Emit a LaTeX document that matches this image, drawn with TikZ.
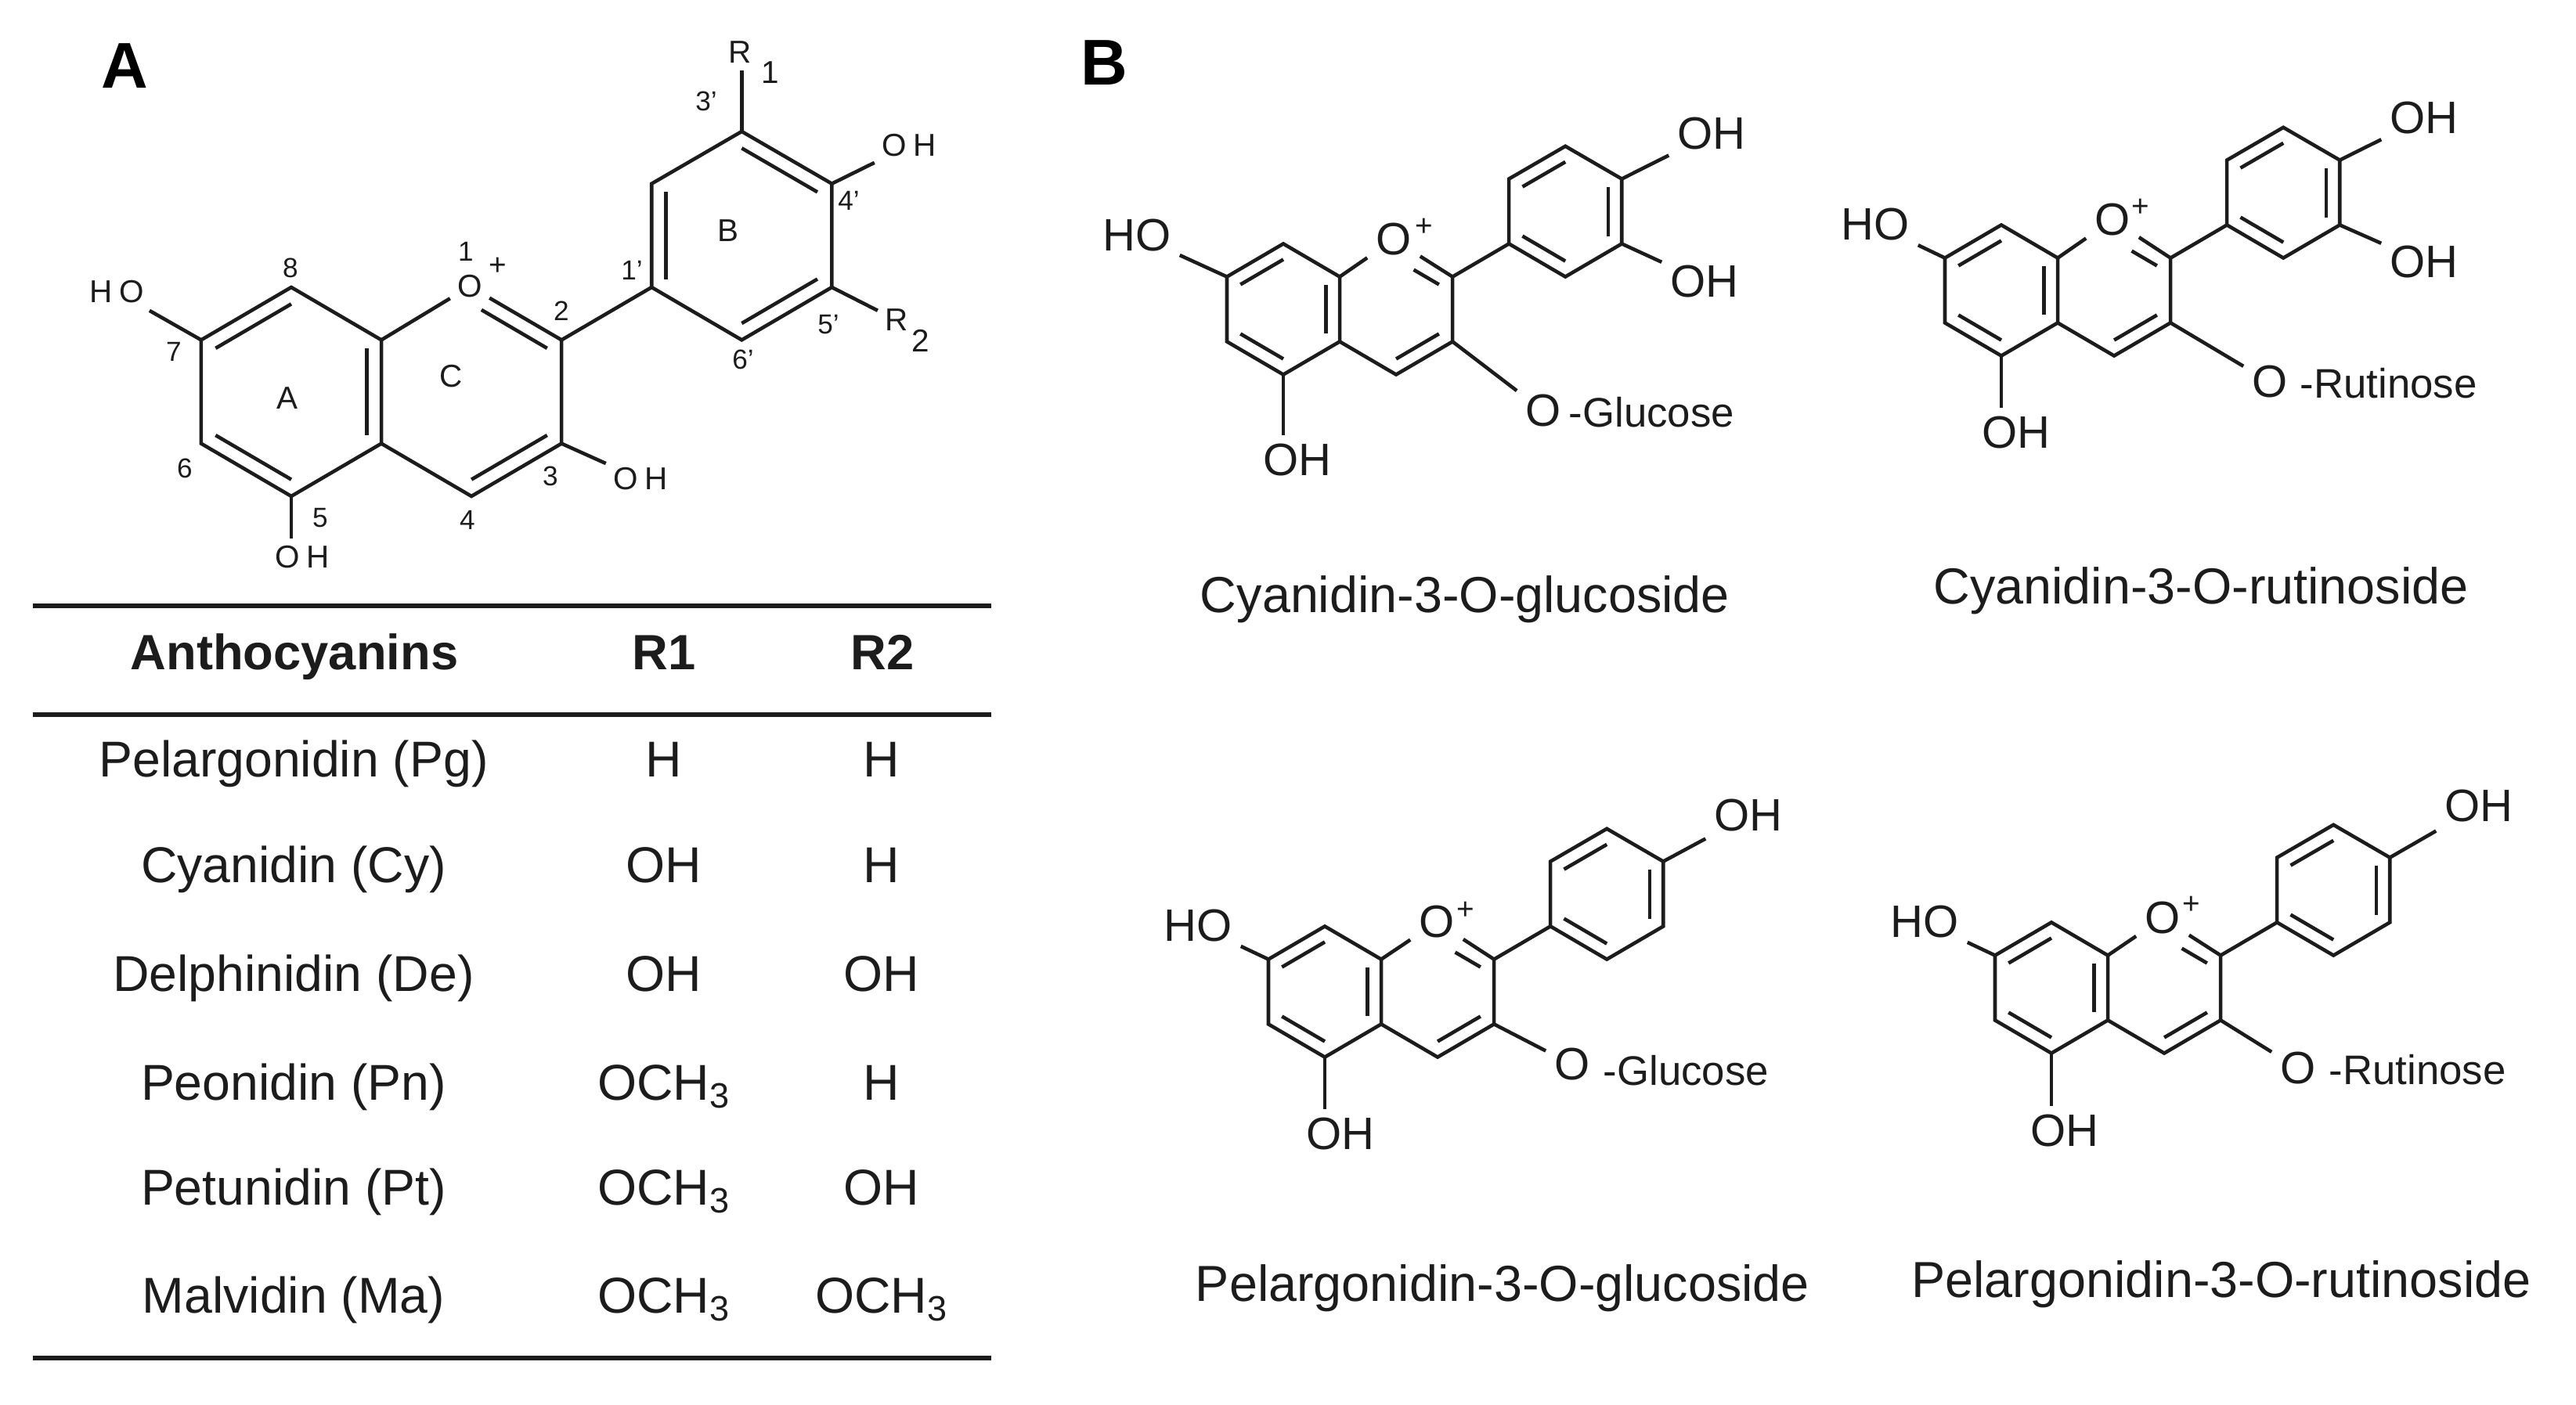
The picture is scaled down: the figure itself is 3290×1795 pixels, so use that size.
\documentclass[tikz,border=0pt]{standalone}
\usepackage{fontspec}
\setmainfont{Liberation Sans}
\usetikzlibrary{calc}
\definecolor{ink}{HTML}{1C1C1C}
\tikzset{
    bond/.style={draw=ink, line width=1.3pt, line join=miter},
    rule/.style={draw=ink, line width=1.7pt},
    atoma/.style={text=ink, inner sep=2.5pt, font=\fontsize{11.5}{13}\selectfont},
    numa/.style={text=ink, inner sep=0pt, font=\fontsize{10}{12}\selectfont},
    atomb/.style={text=ink, inner sep=3pt, font=\fontsize{16.5}{18}\selectfont},
    sugar/.style={text=ink, inner sep=0pt, anchor=west, font=\fontsize{15}{17}\selectfont},
    plus/.style={text=ink, inner sep=0pt, font=\fontsize{11}{12}\selectfont},
    cell/.style={text=ink, inner sep=0pt, anchor=base, font=\fontsize{18.3}{22}\selectfont},
    head/.style={text=ink, inner sep=0pt, anchor=base, font=\fontsize{18}{22}\selectfont\bfseries},
    capt/.style={text=ink, inner sep=0pt, anchor=base, font=\fontsize{18.4}{22}\selectfont},
    panel/.style={text=black, inner sep=0pt, font=\fontsize{23.5}{26}\selectfont\bfseries}
}
\newcommand{\dbl}[4]{\draw[bond] ($(#1)!#4!(#3)$) -- ($(#2)!#4!(#3)$);}
\newcommand{\flavylium}[6]{
    \begin{scope}[shift={(#2)}, x=#3cm, y=-#3cm]
        \coordinate (#1ca) at (0,0);
        \coordinate (#1cc) at (2,0);
        \coordinate (#1cb) at (5,-1.73);
        \coordinate (#1c8) at (0,-1.16);
        \coordinate (#1c7) at (-1,-.575);
        \coordinate (#1c6) at (-1,.575);
        \coordinate (#1c5) at (0,1.16);
        \coordinate (#1c4a) at (1,.575);
        \coordinate (#1c8a) at (1,-.575);
        \coordinate (#1oc) at (2,-1.16);
        \coordinate (#1c2) at (3,-.575);
        \coordinate (#1c3) at (3,.575);
        \coordinate (#1c4) at (2,1.16);
        \coordinate (#1b1) at (4,-1.16);
        \coordinate (#1b2) at (4,-2.31);
        \coordinate (#1b3) at (5,-2.89);
        \coordinate (#1b4) at (6,-2.31);
        \coordinate (#1b5) at (6,-1.16);
        \coordinate (#1b6) at (5,-.575);
    \end{scope}
    \draw[bond] (#1c7) -- (#1c8) -- (#1c8a) -- (#1c4a) -- (#1c5) -- (#1c6) -- cycle;
    \draw[bond] (#1c8a) -- (#1o);
    \draw[bond] (#1o) -- (#1c2) -- (#1c3) -- (#1c4) -- (#1c4a);
    \draw[bond] (#1c2) -- (#1b1);
    \draw[bond] (#1b1) -- (#1b2) -- (#1b3) -- (#1b4) -- (#1b5) -- (#1b6) -- cycle;
    \dbl{#1c7}{#1c8}{#1ca}{#4}
    \dbl{#1c6}{#1c5}{#1ca}{#4}
    \dbl{#1c8a}{#1c4a}{#1ca}{#4}
    \dbl{#1c3}{#1c4}{#1cc}{#4}
    \draw[bond, shorten <=#5pt] ($(#1oc)!#4!(#1cc)$) -- ($(#1c2)!#4!(#1cc)$);
    \foreach \from/\to in {#6} {\dbl{#1\from}{#1\to}{#1cb}{#4}}
}
\begin{document}
\begin{tikzpicture}[x=0.01cm, y=-0.01cm]
    \useasboundingbox (0,0) rectangle (3290,1795);

    \node[panel] (panela) at (159,84) {A};
    \node[panel] (panelb) at (1410,80) {B};

    % structure with numbered atoms
    \node[atoma] (ao) at (600,366) {O};
    \flavylium{a}{372,500.5}{1.15}{.16}{4.2}{b1/b2,b3/b4,b5/b6}
    \node[atoma] (aho7) at (149,373) {H\hspace{2.5pt}O};
    \node[atoma] (aoh4) at (1161,186) {O\hspace{2.5pt}H};
    \node[atoma] (aoh3) at (818,612) {O\hspace{2.5pt}H};
    \node[atoma] (aoh5) at (386,712) {O\hspace{2.5pt}H};
    \node[atoma] (ar1) at (945,67) {R};
    \node[atoma] (ar1sub) at (984,93) {1};
    \node[atoma] (ar2) at (1145,409) {R};
    \node[atoma] (ar2sub) at (1176,435) {2};
    \draw[bond] (ac7) -- (aho7);
    \draw[bond] (ab4) -- (aoh4);
    \draw[bond] (ac3) -- (aoh3);
    \draw[bond] (ac5) -- (ac5 |- aoh5.north);
    \draw[bond] (ab3) -- (ab3 |- ar1.south);
    \draw[bond] (ab5) -- (ar2);
    \node[numa] (n8) at (371,342) {8};
    \node[numa] (n7) at (222,449) {7};
    \node[numa] (n6) at (236,598) {6};
    \node[numa] (n5) at (409,662) {5};
    \node[numa] (n4) at (597,664) {4};
    \node[numa] (n3) at (703,608) {3};
    \node[numa] (n2) at (717,397) {2};
    \node[numa] (n1) at (595,321) {1};
    \node[plus] (aplus) at (636,340) {+};
    \node[numa] (n1p) at (807,345) {1'};
    \node[numa] (n3p) at (902,129) {3'};
    \node[numa] (n4p) at (1084,256) {4'};
    \node[numa] (n5p) at (1058,415) {5'};
    \node[numa] (n6p) at (949,459) {6'};
    \node[atoma] (ringa) at (367,509) {A};
    \node[atoma] (ringb) at (930,295) {B};
    \node[atoma] (ringc) at (576,481) {C};

    % table
    \coordinate (rulea) at (42,774);
    \coordinate (ruleb) at (1266,774);
    \coordinate (rulec) at (42,913);
    \coordinate (ruled) at (1266,913);
    \coordinate (rulee) at (42,1735);
    \coordinate (rulef) at (1266,1735);
    \draw[rule] (rulea) -- (ruleb);
    \draw[rule] (rulec) -- (ruled);
    \draw[rule] (rulee) -- (rulef);
    \node[head] (anth) at (376,856) {Anthocyanins};
    \node[head] (hra) at (848,856) {R1};
    \node[head] (hrb) at (1127,856) {R2};
    \node[cell] (pg) at (375,993) {Pelargonidin (Pg)};
    \node[cell] (pga) at (848,993) {H};
    \node[cell] (pgb) at (1126,993) {H};
    \node[cell] (cy) at (375,1128) {Cyanidin (Cy)};
    \node[cell] (cya) at (848,1128) {OH};
    \node[cell] (cyb) at (1126,1128) {H};
    \node[cell] (de) at (375,1266) {Delphinidin (De)};
    \node[cell] (dea) at (848,1266) {OH};
    \node[cell] (deb) at (1126,1266) {OH};
    \node[cell] (pn) at (375,1405) {Peonidin (Pn)};
    \node[cell] (pna) at (848,1405) {OCH\textsubscript{3}};
    \node[cell] (pnb) at (1126,1405) {H};
    \node[cell] (pt) at (375,1539) {Petunidin (Pt)};
    \node[cell] (pta) at (848,1539) {OCH\textsubscript{3}};
    \node[cell] (ptb) at (1126,1539) {OH};
    \node[cell] (ma) at (375,1677) {Malvidin (Ma)};
    \node[cell] (maa) at (848,1677) {OCH\textsubscript{3}};
    \node[cell] (mab) at (1126,1677) {OCH\textsubscript{3}};

    % cyanidin-3-O-glucoside
    \node[atomb] (bao) at (1780,306) {O};
    \flavylium{ba}{1639,395}{.72}{.24}{7.4}{b2/b3,b4/b5,b6/b1}
    \node[plus] (baplus) at (1819,290) {+};
    \node[atomb] (baho) at (1452,301) {HO};
    \node[atomb] (baoha) at (2186,171) {OH};
    \node[atomb] (baohb) at (2177,360) {OH};
    \node[atomb] (baohc) at (1657,588) {OH};
    \node[atomb] (bag) at (1971,525) {O};
    \node[sugar] (bas) at (2003,527) {-Glucose};
    \draw[bond] (bac7) -- (baho);
    \draw[bond] (bab4) -- (baoha);
    \draw[bond] (bab5) -- (baohb);
    \draw[bond] (bac5) -- (bac5 |- baohc.north);
    \draw[bond] (bac3) -- (bag);
    \node[capt] (capa) at (1871,783) {Cyanidin-3-O-glucoside};

    % cyanidin-3-O-rutinoside
    \node[atomb] (bbo) at (2698,281) {O};
    \flavylium{bb}{2556,371}{.72}{.24}{7.4}{b2/b3,b4/b5,b6/b1}
    \node[plus] (bbplus) at (2734,265) {+};
    \node[atomb] (bbho) at (2395,287) {HO};
    \node[atomb] (bboha) at (3096,151) {OH};
    \node[atomb] (bbohb) at (3096,335) {OH};
    \node[atomb] (bbohc) at (2575,553) {OH};
    \node[atomb] (bbg) at (2899,488) {O};
    \node[sugar] (bbs) at (2937,490) {-Rutinose};
    \draw[bond] (bbc7) -- (bbho);
    \draw[bond] (bbb4) -- (bboha);
    \draw[bond] (bbb5) -- (bbohb);
    \draw[bond] (bbc5) -- (bbc5 |- bbohc.north);
    \draw[bond] (bbc3) -- (bbg);
    \node[capt] (capb) at (2811,772) {Cyanidin-3-O-rutinoside};

    % pelargonidin-3-O-glucoside
    \node[atomb] (bco) at (1835,1178) {O};
    \flavylium{bc}{1692,1267}{.72}{.24}{7.4}{b2/b3,b4/b5,b6/b1}
    \node[plus] (bcplus) at (1872,1163) {+};
    \node[atomb] (bcho) at (1530,1183) {HO};
    \node[atomb] (bcoha) at (2233,1042) {OH};
    \node[atomb] (bcohc) at (1712,1449) {OH};
    \node[atomb] (bcg) at (2008,1360) {O};
    \node[sugar] (bcs) at (2047,1368) {-Glucose};
    \draw[bond] (bcc7) -- (bcho);
    \draw[bond] (bcb4) -- (bcoha);
    \draw[bond] (bcc5) -- (bcc5 |- bcohc.north);
    \draw[bond] (bcc3) -- (bcg);
    \node[capt] (capc) at (1919,1662) {Pelargonidin-3-O-glucoside};

    % pelargonidin-3-O-rutinoside
    \node[atomb] (bdo) at (2762,1173) {O};
    \flavylium{bd}{2620,1262}{.72}{.24}{7.4}{b2/b3,b4/b5,b6/b1}
    \node[plus] (bdplus) at (2799,1156) {+};
    \node[atomb] (bdho) at (2458,1178) {HO};
    \node[atomb] (bdoha) at (3166,1030) {OH};
    \node[atomb] (bdohc) at (2637,1445) {OH};
    \node[atomb] (bdg) at (2935,1365) {O};
    \node[sugar] (bds) at (2974,1367) {-Rutinose};
    \draw[bond] (bdc7) -- (bdho);
    \draw[bond] (bdb4) -- (bdoha);
    \draw[bond] (bdc5) -- (bdc5 |- bdohc.north);
    \draw[bond] (bdc3) -- (bdg);
    \node[capt] (capd) at (2837,1657) {Pelargonidin-3-O-rutinoside};
\end{tikzpicture}
\end{document}
